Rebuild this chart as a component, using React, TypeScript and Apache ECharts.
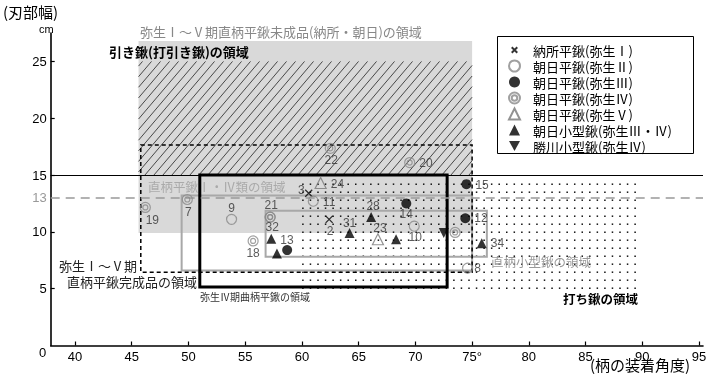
import React, { useEffect, useRef } from 'react';
import * as echarts from 'echarts';

// ---- axis ticks ----
const xTicks = [40, 45, 50, 55, 60, 65, 70, 75, 80, 85, 90, 95];
const yTicks = [5, 10, 15, 20, 25];
const yLabels = [5, 10, 13, 15, 20, 25];
const refSolid = 15;
const refDashed = 13;

// ---- regions [xMin, yMin, xMax, yMax] ----
const unfinishedRegion = [45.6, 9.9, 75, 26.8];
const pullHoeRegion = [45.6, 15, 75, 25];
const strikeHoeRegion = [60, 5, 90, 15];
const finishedRegion = [45.8, 6.45, 75, 17.65];
const curvedHandleRegion = [51.0, 5.15, 72.8, 15];
const straightI_IVRegion = [49.4, 6.6, 75, 13.2];
const smallHoeRegion = [56.8, 7.8, 76.3, 11.85];

// ---- series (x: handle angle, y: blade width, label) ----
const seriesNames = [
  '納所平鍬(弥生Ⅰ)',
  '朝日平鍬(弥生Ⅱ)',
  '朝日平鍬(弥生Ⅲ)',
  '朝日平鍬(弥生Ⅳ)',
  '朝日平鍬(弥生Ⅴ)',
  '朝日小型鍬(弥生Ⅲ・Ⅳ)',
  '勝川小型鍬(弥生Ⅳ)',
];
const nodokoroHira: [number, number, string][] = [
  [60.6, 13.4, '3'],
  [62.4, 11.1, '2'],
];
const asahiHira2: [number, number, string][] = [
  [53.8, 11.1, '9'],
  [61.0, 12.7, '11'],
  [69.9, 10.5, '10'],
  [74.6, 6.8, '8'],
];
const asahiHira3: [number, number, string][] = [
  [69.2, 12.5, '14'],
  [74.5, 14.2, '15'],
  [74.4, 11.2, '12'],
  [58.7, 8.4, ''],
];
const asahiHira4: [number, number, string][] = [
  [46.2, 12.15, '19'],
  [49.9, 12.85, '7'],
  [57.2, 11.3, '21'],
  [57.2, 11.3, '32'],
  [55.7, 9.2, '18'],
  [62.5, 17.35, '22'],
  [69.5, 16.1, '20'],
  [73.5, 9.95, ''],
];
const asahiHira5: [number, number, string][] = [
  [61.65, 14.3, '24'],
  [66.7, 9.35, '23'],
];
const asahiSmall: [number, number, string][] = [
  [57.3, 9.4, '13'],
  [57.8, 8.1, ''],
  [64.2, 9.9, '31'],
  [66.1, 11.3, '28'],
  [68.3, 9.35, ''],
  [75.85, 9.0, '34'],
];
const kachigawaSmall: [number, number, string][] = [[72.5, 9.9, '']];

// label placement (style)
const labelPlace: Record<string, [string, number, number]> = {
  '3': ['left', 4, -3],
  '2': ['bottom', 1, -3],
  '9': ['top', 0, 4],
  '11': ['right', 0, 1],
  '10': ['bottom', 1, -5],
  '8': ['right', -3, 0],
  '14': ['bottom', 0, -4],
  '15': ['right', 0, 1],
  '12': ['right', 0, 0],
  '19': ['bottom', 7, -3],
  '7': ['bottom', 1, -3],
  '21': ['top', 1, 4],
  '32': ['bottom', 2, -6],
  '18': ['bottom', 0, -4],
  '22': ['bottom', 1, -4],
  '20': ['right', 0, 0],
  '24': ['right', 0, 1],
  '23': ['top', 2, 5],
  '13': ['right', 0, 1],
  '31': ['top', 0, 5],
  '28': ['top', 2, 4],
  '34': ['right', 0, 0],
};

const NUMFONT = "'Liberation Sans', 'Noto Sans CJK JP', sans-serif";
const JFONT = "'Noto Sans CJK JP', 'Liberation Sans', sans-serif";

const doubleCircle =
  'path://M10 0A10 10 0 1 1 10 20A10 10 0 1 1 10 0ZM10 5A5 5 0 1 1 10 15A5 5 0 1 1 10 5Z';
const cross = 'path://M0 0L10 10M10 0L0 10';
const crossLegend = 'path://M0 0M14 14M3.5 3.5L10.5 10.5M10.5 3.5L3.5 10.5';
const downTri = 'path://M0 0L10 0L5 9Z';

function rectCorners(api: any) {
  const tl = api.coord([api.value(0), api.value(3)]);
  const br = api.coord([api.value(2), api.value(1)]);
  return { L: tl[0], T: tl[1], R: br[0], B: br[1] };
}

function regionSeries(id: string, region: number[], z: number, draw: (c: any) => any) {
  return {
    type: 'custom',
    id,
    z,
    silent: true,
    coordinateSystem: 'cartesian2d',
    encode: { x: [0, 2], y: [1, 3] },
    data: [region],
    renderItem: (_p: any, api: any) => draw(rectCorners(api)),
  };
}

function pointSeries(
  name: string,
  pts: [number, number, string][],
  symbol: string,
  size: number,
  itemStyle: any,
) {
  return {
    type: 'scatter',
    name,
    z: 10,
    symbol,
    symbolSize: size,
    itemStyle,
    data: pts.map(([x, y, lab]) => {
      const pl = labelPlace[lab] || ['right', 0, 0];
      return {
        value: [x, y],
        name: lab,
        label: { position: pl[0], offset: [pl[1], pl[2]] },
      };
    }),
    label: {
      show: true,
      formatter: '{b}',
      fontSize: 12,
      color: '#333',
      fontFamily: NUMFONT,
      distance: 4,
    },
  };
}

export default function App() {
  const ref = useRef<HTMLDivElement>(null);
  useEffect(() => {
    document.body.style.margin = '0';
    const chart = echarts.init(ref.current!, undefined, { renderer: 'svg' });

    const series: any[] = [
      regionSeries('grayFill', unfinishedRegion, 1, ({ L, T, R, B }) => ({
        type: 'rect',
        shape: { x: L, y: T, width: R - L, height: B - T },
        style: { fill: '#d9d9d9' },
      })),
      regionSeries('hatch', pullHoeRegion, 2, ({ L, T, R, B }) => {
        const s = 0.85;
        const step = 9;
        const children: any[] = [];
        for (let c = L + s * T + 4; c < R + s * B; c += step) {
          const y1 = Math.max(T, (c - R) / s);
          const y2 = Math.min(B, (c - L) / s);
          if (y2 > y1 + 0.5) {
            children.push({
              type: 'line',
              shape: { x1: c - s * y1, y1, x2: c - s * y2, y2 },
              style: { stroke: '#222', lineWidth: 0.8 },
            });
          }
        }
        return { type: 'group', children };
      }),
      regionSeries('dots', strikeHoeRegion, 2, ({ L, T, R, B }) => {
        const children: any[] = [];
        for (let y = B - 0.5; y > T + 4; y -= 8) {
          for (let x = L + 1; x <= R; x += 7.55) {
            children.push({
              type: 'rect',
              shape: { x: x - 0.75, y: y - 0.75, width: 1.5, height: 1.5 },
              style: { fill: '#111' },
            });
          }
        }
        return { type: 'group', children };
      }),
      regionSeries('grayRect1', straightI_IVRegion, 3, ({ L, T, R, B }) => ({
        type: 'rect',
        shape: { x: L, y: T, width: R - L, height: B - T },
        style: { fill: 'none', stroke: '#a8a8a8', lineWidth: 2 },
      })),
      regionSeries('grayRect2', smallHoeRegion, 3, ({ L, T, R, B }) => ({
        type: 'rect',
        shape: { x: L, y: T, width: R - L, height: B - T },
        style: { fill: 'none', stroke: '#a8a8a8', lineWidth: 2 },
      })),
      regionSeries('dashedRect', finishedRegion, 4, ({ L, T, R, B }) => ({
        type: 'rect',
        shape: { x: L, y: T, width: R - L, height: B - T },
        style: { fill: 'none', stroke: '#000', lineWidth: 1.5, lineDash: [4, 3] },
      })),
      {
        ...regionSeries('thickRect', curvedHandleRegion, 4, ({ L, T, R, B }) => ({
          type: 'rect',
          shape: { x: L, y: T, width: R - L, height: B - T },
          style: { fill: 'none', stroke: '#000', lineWidth: 3 },
        })),
        markLine: {
          silent: true,
          symbol: 'none',
          label: { show: false },
          data: [
            { yAxis: refSolid, lineStyle: { color: '#000', width: 1, type: 'solid' } },
            { yAxis: refDashed, lineStyle: { color: '#999', width: 1.5, type: [9, 6] } },
          ],
        },
      },
      pointSeries(seriesNames[0], nodokoroHira, cross, 7, {
        color: 'rgba(0,0,0,0)',
        borderColor: '#000',
        borderWidth: 1.3,
      }),
      pointSeries(seriesNames[1], asahiHira2, 'circle', 10, {
        color: 'rgba(0,0,0,0)',
        borderColor: '#888',
        borderWidth: 1.2,
      }),
      pointSeries(seriesNames[2], asahiHira3, 'circle', 10, { color: '#000' }),
      pointSeries(seriesNames[3], asahiHira4, doubleCircle, 10, {
        color: 'rgba(0,0,0,0)',
        borderColor: '#888',
        borderWidth: 1.2,
      }),
      pointSeries(seriesNames[4], asahiHira5, 'triangle', 11, {
        color: 'rgba(0,0,0,0)',
        borderColor: '#777',
        borderWidth: 1.2,
      }),
      pointSeries(seriesNames[5], asahiSmall, 'triangle', 10, { color: '#000' }),
      pointSeries(seriesNames[6], kachigawaSmall, downTri, 10, { color: '#000' }),
    ];

    const option: any = {
      animation: false,
      grid: { left: 50.7, right: 4, top: 33, bottom: 32.5, outerBoundsMode: 'none', containLabel: false },
      xAxis: {
        type: 'value',
        min: 37.86,
        max: 95.35,
        axisLine: { show: true, onZero: false, lineStyle: { color: '#000', width: 1.6 } },
        axisTick: { show: true, inside: true, length: 4, customValues: xTicks, lineStyle: { color: '#000', width: 1.2 } },
        axisLabel: {
          customValues: xTicks,
          formatter: (v: number) => (v === 75 ? '75°' : String(v)),
          fontSize: 13,
          color: '#000',
          margin: 4,
          fontFamily: NUMFONT,
        },
        splitLine: { show: false },
      },
      yAxis: {
        type: 'value',
        min: 0,
        max: 27.5,
        axisLine: { show: true, onZero: false, lineStyle: { color: '#000', width: 1.6 } },
        axisTick: { show: true, inside: true, length: 4, customValues: yTicks, lineStyle: { color: '#000', width: 1.2 } },
        axisLabel: {
          customValues: yLabels,
          fontSize: 13,
          margin: 4,
          fontFamily: NUMFONT,
          color: (v: any) => (Number(v) === refDashed ? '#999' : '#000'),
        },
        splitLine: { show: false },
      },
      legend: {
        data: seriesNames.map((n, i) => (i === 0 ? { name: n, icon: crossLegend } : { name: n })),
        orient: 'vertical',
        left: 497,
        top: 36,
        itemWidth: 11,
        itemHeight: 11,
        itemGap: 2,
        padding: [7, 8, 1, 11],
        borderWidth: 0,
        selectedMode: false,
        z: 30,
        textStyle: {
          fontSize: 13,
          lineHeight: 14,
          color: '#000',
          fontFamily: JFONT,
          padding: [0, 0, 0, 8],
        },
      },
      graphic: [
        {
          type: 'rect', left: 497, top: 36, z: 25,
          shape: { width: 196, height: 117 },
          style: { fill: '#fff', stroke: '#000', lineWidth: 1 },
        },
        { type: 'text', left: 3, top: 4, style: { text: '(刃部幅)', fontSize: 15, fill: '#000', fontFamily: JFONT } },
        { type: 'text', left: 39, top: 23, style: { text: 'cm', fontSize: 11, fill: '#000', fontFamily: NUMFONT } },
        { type: 'text', left: 39, top: 346, style: { text: '0', fontSize: 13, fill: '#000', fontFamily: NUMFONT } },
        { type: 'text', left: 590, top: 357, style: { text: '(柄の装着角度)', fontSize: 15, fill: '#000', fontFamily: JFONT } },
        {
          type: 'text', left: 140, top: 25, z: 20,
          style: { text: '弥生Ⅰ～Ⅴ期直柄平鍬未成品(納所・朝日)の領域', fontSize: 13, fill: '#888', fontFamily: JFONT },
        },
        {
          type: 'text', left: 109, top: 45, z: 20,
          style: { text: '引き鍬(打引き鍬)の領域', fontSize: 13, fontWeight: 'bold', fill: '#000', fontFamily: JFONT },
        },
        {
          type: 'text', left: 148, top: 180, z: 20,
          style: { text: '直柄平鍬Ⅰ・Ⅳ類の領域', fontSize: 12.5, fill: '#aaa', fontFamily: JFONT },
        },
        {
          type: 'text', left: 491, top: 255, z: 20,
          style: { text: '直柄小型鍬の領域', fontSize: 12.5, fill: '#999', fontFamily: JFONT },
        },
        {
          type: 'text', right: 707 - 137, top: 259, z: 20,
          style: { text: '弥生Ⅰ～Ⅴ期', fontSize: 13, fill: '#222', fontFamily: JFONT },
        },
        {
          type: 'text', right: 707 - 197, top: 275, z: 20,
          style: { text: '直柄平鍬完成品の領域', fontSize: 13, fill: '#222', fontFamily: JFONT },
        },
        {
          type: 'text', left: 200, top: 291, z: 20,
          style: { text: '弥生Ⅳ期曲柄平鍬の領域', fontSize: 10, fill: '#333', fontFamily: JFONT },
        },
        {
          type: 'text', left: 563, top: 292, z: 20,
          style: { text: '打ち鍬の領域', fontSize: 12.5, fontWeight: 'bold', fill: '#000', fontFamily: JFONT },
        },
      ],
      series,
    };
    chart.setOption(option);
    return () => chart.dispose();
  }, []);
  return <div ref={ref} style={{ position: 'fixed', left: 0, top: 0, width: 707, height: 378 }} />;
}
